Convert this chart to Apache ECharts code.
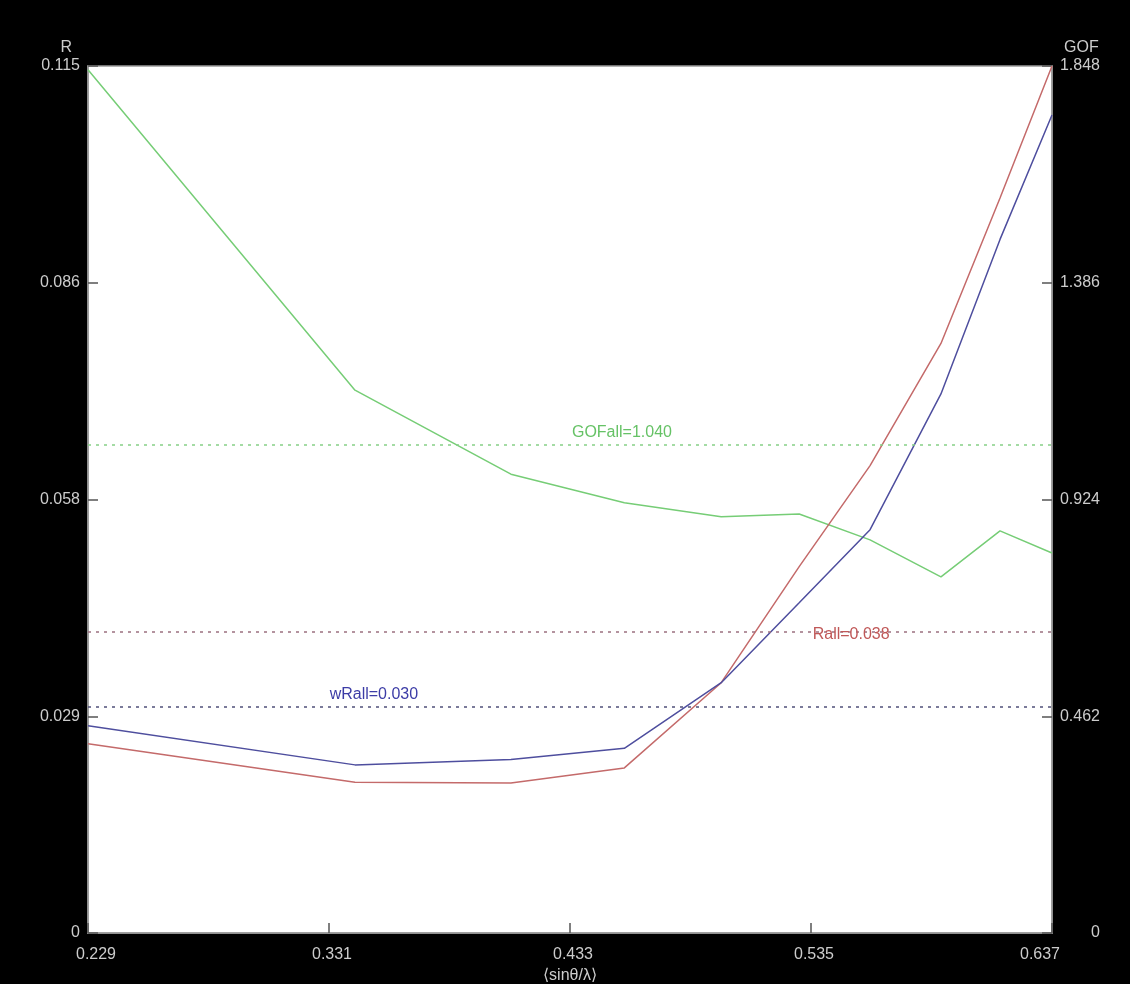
<!DOCTYPE html>
<html>
<head>
<meta charset="utf-8">
<script src="https://cdn.jsdelivr.net/npm/echarts@6/dist/echarts.min.js"></script>
<style>
  html, body { margin: 0; padding: 0; background: #000; }
  #chart { width: 1130px; height: 984px; }
</style>
</head>
<body>
<div id="chart"></div>
<script>
// Resolution shells (mean sinθ/λ) and the statistics per shell
const shellS = [0.229, 0.342, 0.408, 0.456, 0.497, 0.530, 0.560, 0.590, 0.615, 0.637];
const rValues = [0.0251, 0.0200, 0.0199, 0.0219, 0.0332, 0.0486, 0.0620, 0.0782, 0.0975, 0.1150];
const wrValues = [0.0275, 0.0223, 0.0230, 0.0245, 0.0332, 0.0438, 0.0535, 0.0715, 0.0920, 0.1085];
const gofValues = [1.840, 1.157, 0.978, 0.917, 0.887, 0.893, 0.838, 0.759, 0.857, 0.810];

// Overall values drawn as dashed reference lines
const rAll = 0.038;
const wrAll = 0.030;
const gofAll = 1.040;

// Axis ticks and their printed labels
const xTicks = [0.229, 0.331, 0.433, 0.535, 0.637];
const xTickLabels = ['0.229', '0.331', '0.433', '0.535', '0.637'];
const rTicks = [0, 0.02875, 0.0575, 0.08625, 0.115];
const rTickLabels = ['0', '0.029', '0.058', '0.086', '0.115'];
const gofTicks = [0, 0.462, 0.924, 1.386, 1.848];
const gofTickLabels = ['0', '0.462', '0.924', '1.386', '1.848'];

// Where the overall-value captions sit along sinθ/λ
const rAllLabelS = 0.552;
const wrAllLabelS = 0.350;
const gofAllLabelS = 0.455;

const pairs = (xs, ys) => xs.map((x, i) => [x, ys[i]]);
const nearestIndex = (ticks, v) => {
  let best = 0;
  ticks.forEach((t, i) => { if (Math.abs(t - v) < Math.abs(ticks[best] - v)) best = i; });
  return best;
};
const labelFor = (ticks, labels) => (v) => labels[nearestIndex(ticks, v)];

const FONT = '"Liberation Sans", Arial, sans-serif';
const TEXT = '#cccccc';
const axisText = { color: TEXT, fontSize: 16, fontFamily: FONT };
const tickStyle = { color: '#555', width: 1.5 };
const frameColor = '#9a9a9a';

function refLine(value, color) {
  return {
    silent: true,
    symbol: 'none',
    label: { show: false },
    lineStyle: { color: color, type: [3, 5], width: 1.6 },
    data: [{ yAxis: value }]
  };
}
function refLabel(s, value, text, color) {
  return {
    silent: true,
    symbol: 'circle',
    symbolSize: 0,
    itemStyle: { color: 'transparent' },
    label: {
      show: true, position: 'top', distance: 4,
      formatter: text, color: color, fontSize: 16, fontFamily: FONT
    },
    data: [{ coord: [s, value] }]
  };
}

// End labels of the sinθ/λ axis are nudged inward
const xLabelFormatter = (v) => {
  const i = nearestIndex(xTicks, v);
  if (i === 0) return '{first|' + xTickLabels[i] + '}';
  if (i === xTicks.length - 1) return '{last|' + xTickLabels[i] + '}';
  return '{mid|' + xTickLabels[i] + '}';
};

const chart = echarts.init(document.getElementById('chart'), null, { renderer: 'canvas' });
chart.setOption({
  backgroundColor: '#000',
  animation: false,
  grid: {
    left: 88, right: 78, top: 66, bottom: 51,
    outerBoundsMode: 'none',
    show: true, backgroundColor: '#fff', borderColor: frameColor, borderWidth: 1.5
  },
  xAxis: {
    type: 'value', min: 0.229, max: 0.637,
    name: '⟨sinθ/λ⟩', nameLocation: 'middle', nameGap: 34,
    nameTextStyle: axisText,
    axisLine: { show: true, lineStyle: { color: frameColor, width: 1.5 } },
    axisTick: { show: true, inside: true, length: 10, lineStyle: tickStyle, customValues: xTicks },
    axisLabel: {
      ...axisText, margin: 14, customValues: xTicks, formatter: xLabelFormatter,
      rich: {
        first: { ...axisText, padding: [0, 0, 0, 16] },
        mid: { ...axisText, padding: [0, 0, 0, 6] },
        last: { ...axisText, padding: [0, 24, 0, 0] }
      }
    },
    splitLine: { show: false }
  },
  yAxis: [
    {
      type: 'value', min: 0, max: 0.115, position: 'left',
      name: 'R', nameLocation: 'end', nameGap: 18,
      nameTextStyle: { ...axisText, align: 'right', verticalAlign: 'middle', padding: [0, 16, 0, 0] },
      axisLine: { show: true, lineStyle: { color: frameColor, width: 1.5 } },
      axisTick: { show: true, inside: true, length: 10, lineStyle: tickStyle, customValues: rTicks },
      axisLabel: { ...axisText, margin: 8, customValues: rTicks, formatter: labelFor(rTicks, rTickLabels) },
      splitLine: { show: false }
    },
    {
      type: 'value', min: 0, max: 1.848, position: 'right',
      name: 'GOF', nameLocation: 'end', nameGap: 18,
      nameTextStyle: { ...axisText, align: 'left', verticalAlign: 'middle', padding: [0, 0, 0, 12] },
      axisLine: { show: true, lineStyle: { color: frameColor, width: 1.5 } },
      axisTick: { show: true, inside: true, length: 10, lineStyle: tickStyle, customValues: gofTicks },
      axisLabel: { ...axisText, margin: 48, align: 'right', customValues: gofTicks, formatter: labelFor(gofTicks, gofTickLabels) },
      splitLine: { show: false }
    }
  ],
  series: [
    {
      name: 'GOF', type: 'line', yAxisIndex: 1,
      data: pairs(shellS, gofValues),
      showSymbol: false, lineStyle: { color: '#76cd76', width: 1.5 },
      markLine: refLine(gofAll, '#86d086'),
      markPoint: refLabel(gofAllLabelS, gofAll, 'GOFall=1.040', '#66c266'),
      z: 3
    },
    {
      name: 'R', type: 'line', yAxisIndex: 0,
      data: pairs(shellS, rValues),
      showSymbol: false, lineStyle: { color: '#c46a6a', width: 1.5 },
      markLine: refLine(rAll, '#9c7080'),
      markPoint: refLabel(rAllLabelS, rAll, 'Rall=0.038', '#c05858'),
      z: 3
    },
    {
      name: 'wR', type: 'line', yAxisIndex: 0,
      data: pairs(shellS, wrValues),
      showSymbol: false, lineStyle: { color: '#4e4e9e', width: 1.5 },
      markLine: refLine(wrAll, '#50507a'),
      markPoint: refLabel(wrAllLabelS, wrAll, 'wRall=0.030', '#3c3ca6'),
      z: 3
    }
  ]
});
</script>
</body>
</html>
